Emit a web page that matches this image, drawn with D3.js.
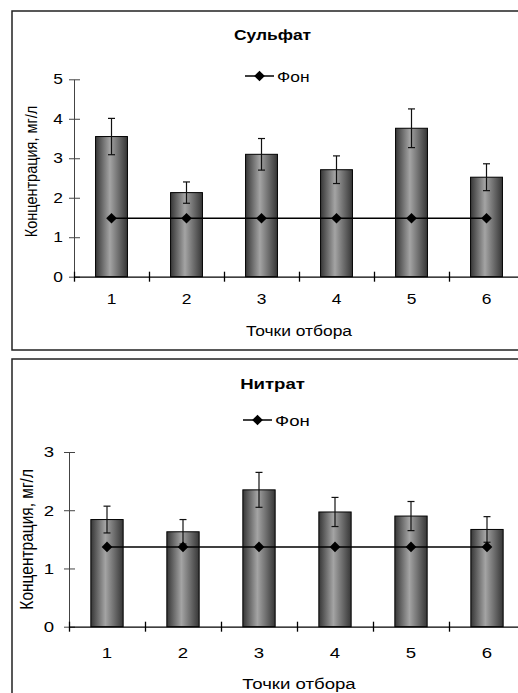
<!DOCTYPE html>
<html>
<head>
<meta charset="utf-8">
<script src="https://cdn.jsdelivr.net/npm/d3@7"></script>
<style>
  body { margin: 0; background: #fff; }
  svg { display: block; font-family: "Liberation Sans", Arial, sans-serif; }
</style>
</head>
<body>
<div id="viz"></div>
<script>
// data
let points = ['1', '2', '3', '4', '5', '6']

let sulfate = [3.55, 2.13, 3.10, 2.71, 3.76, 2.52]
let sulfateErr = [0.46, 0.27, 0.40, 0.35, 0.49, 0.34]
let sulfateBg = [1.48, 1.48, 1.48, 1.48, 1.48, 1.48]
let sulfateTicks = [0, 1, 2, 3, 4, 5]

let nitrate = [1.84, 1.63, 2.35, 1.97, 1.90, 1.67]
let nitrateErr = [0.23, 0.21, 0.30, 0.25, 0.25, 0.22]
let nitrateBg = [1.37, 1.37, 1.37, 1.37, 1.37, 1.37]
let nitrateTicks = [0, 1, 2, 3]

//the original picture is stretched sideways, text too
let stretch = 1.2

let svg = d3.select('#viz')
			.append('svg')
			.attr('width', 518)
			.attr('height', 693)

//bar gradient, dark edges light middle
let grad = svg.append('defs')
			.append('linearGradient')
			.attr('id', 'barGrad')
			.attr('x1', 0).attr('x2', 1).attr('y1', 0).attr('y2', 0)
grad.append('stop').attr('offset', '0%').attr('stop-color', '#363636')
grad.append('stop').attr('offset', '45%').attr('stop-color', '#a4a4a4')
grad.append('stop').attr('offset', '100%').attr('stop-color', '#363636')

drawPanel({
	title: 'Сульфат', values: sulfate, err: sulfateErr, bg: sulfateBg, ticks: sulfateTicks,
	box: [12, 11, 560, 339], font: 14.5,
	x0: 74, x1: 524, yTop: 79.3, yBottom: 276.7,
	titleY: 40, legendY: 76, legendX: 245, tickLabelY: 17, xTitleY: 336,
	yTitleX: 37, yTitleShift: -6.5, yLabelGap: 11
})

drawPanel({
	title: 'Нитрат', values: nitrate, err: nitrateErr, bg: nitrateBg, ticks: nitrateTicks,
	box: [12, 359, 560, 360], font: 15.5,
	x0: 69, x1: 525, yTop: 452, yBottom: 626.7,
	titleY: 389, legendY: 420, legendX: 243, tickLabelY: 20, xTitleY: 689,
	yTitleX: 33, yTitleShift: 0, yLabelGap: 15
})

function drawPanel(p) {
	let g = svg.append('g')

	g.append('rect')
		.attr('x', p.box[0]).attr('y', p.box[1])
		.attr('width', p.box[2]).attr('height', p.box[3])
		.attr('fill', '#fff')
		.attr('stroke', '#222')
		.attr('stroke-width', 1.5)

	let x = d3.scaleBand()
				.domain(points)
				.range([p.x0, p.x1])
				.paddingInner(0.575)
				.paddingOuter(0.2875)

	let slots = d3.scaleLinear()
				.domain([0, points.length])
				.range([p.x0, p.x1])

	let y = d3.scaleLinear()
				.domain(d3.extent(p.ticks))
				.range([p.yBottom, p.yTop])

	//bars
	g.selectAll('rect.bar')
		.data(p.values)
		.enter()
		.append('rect')
		.attr('class', 'bar')
		.attr('x', (d, i) => x(points[i]))
		.attr('y', d => y(d))
		.attr('width', x.bandwidth())
		.attr('height', d => y(0) - y(d))
		.attr('fill', 'url(#barGrad)')
		.attr('stroke', '#000')
		.attr('stroke-width', 1)

	//error bars
	let cx = i => x(points[i]) + x.bandwidth() / 2
	let eb = g.selectAll('g.err')
		.data(p.values)
		.enter()
		.append('g')
		.attr('stroke', '#111')
		.attr('stroke-width', 1.2)
	eb.append('line')
		.attr('x1', (d, i) => cx(i)).attr('x2', (d, i) => cx(i))
		.attr('y1', (d, i) => y(d + p.err[i])).attr('y2', (d, i) => y(d - p.err[i]))
	eb.append('line')
		.attr('x1', (d, i) => cx(i) - 3.5).attr('x2', (d, i) => cx(i) + 3.5)
		.attr('y1', (d, i) => y(d + p.err[i])).attr('y2', (d, i) => y(d + p.err[i]))
	eb.append('line')
		.attr('x1', (d, i) => cx(i) - 3.5).attr('x2', (d, i) => cx(i) + 3.5)
		.attr('y1', (d, i) => y(d - p.err[i])).attr('y2', (d, i) => y(d - p.err[i]))

	//y axis, cross ticks
	let yAxis = g.append('g')
		.attr('transform', `translate(${p.x0},0)`)
		.call(d3.axisLeft(y).tickValues(p.ticks).tickFormat(d3.format('d')).tickSize(5).tickSizeOuter(0))
	yAxis.selectAll('.tick line').attr('x1', 6)
	yAxis.selectAll('path, line').attr('stroke', '#444')
	yAxis.selectAll('text')
		.attr('font-size', p.font).attr('fill', '#000').attr('font-family', null)
		.attr('x', -p.yLabelGap / stretch)
		.attr('transform', `scale(${stretch},1)`)

	//x axis: tick marks at slot edges, labels at centers
	let xAxis = g.append('g')
		.attr('transform', `translate(0,${p.yBottom})`)
		.call(d3.axisBottom(slots).tickValues(d3.range(0, points.length + 1)).tickFormat('').tickSize(5).tickSizeOuter(0))
	xAxis.selectAll('.tick line').attr('y1', -5)
	xAxis.selectAll('path, line').attr('stroke', '#000').attr('stroke-width', 1.3)

	let xLabels = g.append('g')
		.attr('transform', `translate(0,${p.yBottom})`)
		.call(d3.axisBottom(x).tickSize(0).tickPadding(p.tickLabelY))
	xLabels.select('.domain').remove()
	xLabels.selectAll('text')
		.attr('font-size', p.font).attr('fill', '#000').attr('font-family', null)
		.attr('transform', `scale(${stretch},1)`)

	//background line
	let line = d3.line()
				.x((d, i) => cx(i))
				.y(d => y(d))
	g.append('path')
		.datum(p.bg)
		.attr('d', line)
		.attr('fill', 'none')
		.attr('stroke', '#000')
		.attr('stroke-width', 1.5)

	let diamond = d3.symbol().type(d3.symbolDiamond2).size(72)
	g.selectAll('path.mark')
		.data(p.bg)
		.enter()
		.append('path')
		.attr('class', 'mark')
		.attr('d', diamond)
		.attr('transform', (d, i) => `translate(${cx(i)},${y(d)})`)
		.attr('fill', '#000')

	//title
	g.append('text')
		.attr('transform', `translate(272.5,${p.titleY}) scale(${stretch},1)`)
		.attr('text-anchor', 'middle')
		.attr('font-size', p.font)
		.attr('font-weight', 'bold')
		.text(p.title)

	//legend
	g.append('line')
		.attr('x1', p.legendX).attr('x2', p.legendX + 29)
		.attr('y1', p.legendY).attr('y2', p.legendY)
		.attr('stroke', '#000')
		.attr('stroke-width', 1.5)
	g.append('path')
		.attr('d', diamond)
		.attr('transform', `translate(${p.legendX + 14.5},${p.legendY})`)
		.attr('fill', '#000')
	g.append('text')
		.attr('transform', `translate(${p.legendX + 32},${p.legendY + 5.5}) scale(${stretch},1)`)
		.attr('font-size', p.font)
		.text('Фон')

	//axis titles
	g.append('text')
		.attr('transform', `translate(299,${p.xTitleY}) scale(${stretch},1)`)
		.attr('text-anchor', 'middle')
		.attr('font-size', p.font)
		.text('Точки отбора')

	g.append('text')
		.attr('transform', `translate(${p.yTitleX},${(p.yTop + p.yBottom) / 2 + p.yTitleShift}) scale(${stretch},1) rotate(-90)`)
		.attr('text-anchor', 'middle')
		.attr('font-size', p.font)
		.text('Концентрация, мг/л')
}
</script>
</body>
</html>
